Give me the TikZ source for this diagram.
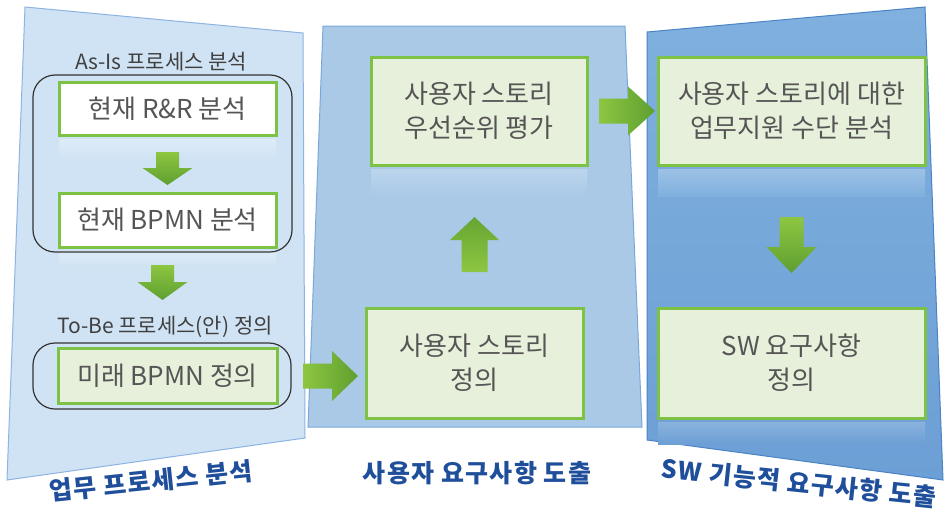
\documentclass[tikz,border=0pt]{standalone}
\usepackage{fontspec}
\newfontfamily\kr{Noto Sans CJK KR}
\newfontfamily\krsp[LetterSpace=5]{Noto Sans CJK KR}
\usetikzlibrary{calc}
\definecolor{p1fill}{HTML}{D0E3F4}
\definecolor{p1line}{HTML}{8DB3E2}
\definecolor{p2fill}{HTML}{A9C9E7}
\definecolor{p2line}{HTML}{7AA8D9}
\definecolor{p3top}{HTML}{80B0DE}
\definecolor{p3bot}{HTML}{6C9FD5}
\definecolor{p3line}{HTML}{4A84C4}
\definecolor{gline}{HTML}{7DC244}
\definecolor{gfill}{HTML}{E6F0DA}
\definecolor{arrlight}{HTML}{8DC641}
\definecolor{arrdark}{HTML}{5E9F30}
\definecolor{txt}{HTML}{555555}
\definecolor{lbl}{HTML}{1F4E9A}
\newcommand\gvarrow[6]{%
  \shade[#6] let \p1=#1, \p2=#2, \n1={sign(\y2-\y1)*#5} in
   ({\x1-#3pt},{\y1}) -- ({\x1+#3pt},{\y1}) -- ({\x1+#3pt},{\y2-(\n1)*1pt}) -- ({\x1+#4pt},{\y2-(\n1)*1pt})
   -- ({\x1},{\y2}) -- ({\x1-#4pt},{\y2-(\n1)*1pt}) -- ({\x1-#3pt},{\y2-(\n1)*1pt}) -- cycle;}
\newcommand\gharrow[6]{%
  \shade[#6] let \p1=#1, \p2=#2 in
   ({\x1},{\y1+#3pt}) -- ({\x2-#5pt},{\y1+#3pt}) -- ({\x2-#5pt},{\y1+#4pt}) -- ({\x2},{\y1})
   -- ({\x2-#5pt},{\y1-#4pt}) -- ({\x2-#5pt},{\y1-#3pt}) -- ({\x1},{\y1-#3pt}) -- cycle;}
\tikzset{
  stepbox/.style={draw=gline, line width=3pt, fill=gfill, text=txt, outer sep=0pt, inner sep=0pt,
    font=\kr\fontsize{26}{34}\selectfont, align=center},
  whitebox/.style={stepbox, fill=white},
  grouprect/.style={draw=black!80, line width=1.2pt, rounded corners=22pt, outer sep=0pt, inner sep=0pt},
  grouptitle/.style={text=black!75, font=\kr\fontsize{21}{25}\selectfont, inner sep=0pt},
  phaselabel/.style={text=lbl, font=\krsp\bfseries\fontsize{25}{29}\selectfont, inner sep=0pt},
  downshade/.style={top color=arrlight, bottom color=arrdark},
  upshade/.style={top color=arrdark!85!arrlight, bottom color=arrlight},
  rightshade/.style={left color=arrlight, right color=arrdark},
}
\begin{document}
\begin{tikzpicture}[x=1pt,y=1pt]
\useasboundingbox (0,0) rectangle (947,-514);
% panels
\path[fill=p1fill, draw=p1line, line width=1pt] (25,-7) -- (303,-33) -- (305,-438) -- (7,-480) -- cycle;
\path[fill=p2fill, draw=p2line, line width=1pt] (323,-26) -- (625,-26) -- (642,-427) -- (308,-427) -- cycle;
\shade[top color=p3top, bottom color=p3bot] (647,-32) -- (925,-7) -- (943,-480) -- (647,-440) -- cycle;
\draw[p3line, line width=1pt] (647,-32) -- (925,-7) -- (943,-480) -- (647,-440) -- cycle;
% reflections
\shade[top color=p1fill!70!white, bottom color=p1fill] (59,-139) rectangle (276,-158);
\shade[top color=p1fill!70!white, bottom color=p1fill] (59,-251) rectangle (276,-266);
\shade[top color=p2fill!78!white, bottom color=p2fill] (371,-169) rectangle (587,-196);
\shade[top color=p3top!78!white, bottom color=p3top] (658,-169) rectangle (925,-196);
\shade[top color=p3bot!80!white, bottom color=p3bot] (658,-422) rectangle (925,-444);
% left panel
\node[grouptitle] (asis) at (161,-62) {As-Is 프로세스 분석};
\node[grouprect, minimum width=259pt, minimum height=177pt] (g1) at (162.5,-163.5) {};
\node[whitebox, minimum width=217pt, minimum height=53pt] (b1) at (167.5,-108.5) {현재 R\&R 분석};
\node[whitebox, minimum width=217pt, minimum height=54pt] (b2) at (167.5,-220) {현재 BPMN 분석};
\node[grouptitle] (tobe) at (165,-327) {To-Be 프로세스(안) 정의};
\node[grouprect, minimum width=258pt, minimum height=66pt] (g2) at (162,-376) {};
\node[stepbox, minimum width=219pt, minimum height=55pt] (b3) at (167.5,-375.5) {미래 BPMN 정의};
% middle panel
\node[stepbox, minimum width=216pt, minimum height=108pt] (b4) at (479,-111) {사용자 스토리\\우선순위 평가};
\node[stepbox, minimum width=217pt, minimum height=110pt] (b5) at (474.5,-363) {사용자 스토리\\정의};
% right panel
\node[stepbox, minimum width=267pt, minimum height=108pt] (b6) at (791.5,-111) {사용자 스토리에 대한\\업무지원 수단 분석};
\node[stepbox, minimum width=267pt, minimum height=110pt] (b7) at (791.5,-363) {SW 요구사항\\정의};
% arrows
\gvarrow{($(b1.south)+(0,-17)$)}{($(b2.north)+(0,8)$)}{11.5}{25}{17}{downshade}
\gvarrow{($(g1.south)+(0,-13)$)}{($(tobe.center)+(0,27)$)}{11.5}{25}{18}{downshade}
\gharrow{($(g2.east)+(12,0)$)}{($(b5.west)+(-8,0)$)}{12.5}{25}{26}{rightshade}
\gvarrow{($(b5.north)+(0,36)$)}{($(b4.south)+(0,-52)$)}{13}{24.5}{23}{upshade}
\gharrow{($(b4.east)+(12,0)$)}{($(b6.west)+(-3,0)$)}{12.5}{24.5}{27}{rightshade}
\gvarrow{($(b6.south)+(0,-52)$)}{($(b7.north)+(0,35)$)}{12}{25}{26}{downshade}
% phase labels
\node[phaselabel, rotate=6] (l1) at (151,-481) {업무 프로세스 분석};
\node[phaselabel] (l2) at (477,-473) {사용자 요구사항 도출};
\node[phaselabel, rotate=-6] (l3) at (799,-483) {SW 기능적 요구사항 도출};
\end{tikzpicture}
\end{document}
